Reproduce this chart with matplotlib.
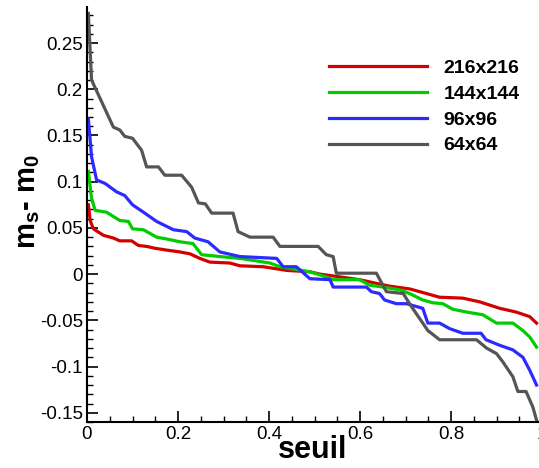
import matplotlib
matplotlib.use("Agg")
import matplotlib.pyplot as plt
from matplotlib.ticker import MultipleLocator, FuncFormatter

plt.rcParams['font.family'] = ['Liberation Sans', 'DejaVu Sans']
plt.rcParams['axes.unicode_minus'] = False
plt.rcParams['mathtext.fontset'] = 'custom'
plt.rcParams['mathtext.rm'] = 'Liberation Sans:bold'
plt.rcParams['mathtext.it'] = 'Liberation Sans:bold'
plt.rcParams['mathtext.bf'] = 'Liberation Sans:bold'

# curves: seuil -> m_s - m_0
x_216 = [0.003, 0.007, 0.014, 0.036, 0.058, 0.072, 0.098, 0.113, 0.131, 0.149, 0.175,
         0.204, 0.226, 0.248, 0.270, 0.314, 0.336, 0.387, 0.439, 0.490, 0.512, 0.556,
         0.599, 0.636, 0.665, 0.709, 0.746, 0.775, 0.826, 0.863, 0.907, 0.943, 0.973, 0.988]
y_216 = [0.075, 0.058, 0.049, 0.042, 0.039, 0.036, 0.036, 0.031, 0.030, 0.028, 0.026,
         0.024, 0.022, 0.017, 0.013, 0.012, 0.009, 0.008, 0.004, 0.0025, 0.0, -0.003,
         -0.006, -0.010, -0.013, -0.016, -0.021, -0.025, -0.026, -0.030, -0.037, -0.041, -0.046, -0.053]

x_144 = [0.003, 0.010, 0.018, 0.043, 0.072, 0.091, 0.100, 0.124, 0.153, 0.175, 0.204,
         0.233, 0.252, 0.292, 0.336, 0.402, 0.424, 0.490, 0.526, 0.541, 0.599, 0.621,
         0.651, 0.687, 0.709, 0.738, 0.760, 0.782, 0.804, 0.834, 0.870, 0.900, 0.936,
         0.958, 0.973, 0.988]
y_144 = [0.111, 0.082, 0.069, 0.067, 0.058, 0.057, 0.049, 0.048, 0.040, 0.038, 0.035,
         0.033, 0.021, 0.019, 0.017, 0.012, 0.008, 0.0025, -0.003, -0.006, -0.006, -0.012,
         -0.014, -0.017, -0.021, -0.028, -0.031, -0.032, -0.038, -0.041, -0.044, -0.053, -0.053,
         -0.061, -0.068, -0.079]

x_96 = [0.003, 0.010, 0.021, 0.040, 0.065, 0.083, 0.100, 0.124, 0.153, 0.190, 0.219,
        0.237, 0.266, 0.292, 0.336, 0.417, 0.431, 0.460, 0.490, 0.534, 0.541, 0.614,
        0.625, 0.643, 0.654, 0.680, 0.702, 0.738, 0.749, 0.775, 0.797, 0.826, 0.866,
        0.877, 0.907, 0.936, 0.958, 0.973, 0.988]
y_96 = [0.168, 0.127, 0.102, 0.098, 0.089, 0.085, 0.075, 0.067, 0.057, 0.048, 0.046,
        0.039, 0.035, 0.024, 0.019, 0.017, 0.008, 0.008, -0.005, -0.006, -0.014, -0.014,
        -0.019, -0.021, -0.028, -0.032, -0.032, -0.037, -0.053, -0.053, -0.059, -0.064, -0.064,
        -0.071, -0.077, -0.082, -0.090, -0.104, -0.120]

x_64 = [0.003, 0.010, 0.058, 0.072, 0.083, 0.100, 0.120, 0.131, 0.157, 0.171, 0.208,
        0.230, 0.245, 0.260, 0.274, 0.321, 0.332, 0.358, 0.409, 0.424, 0.508, 0.526,
        0.541, 0.548, 0.636, 0.658, 0.695, 0.709, 0.724, 0.738, 0.749, 0.775, 0.856,
        0.878, 0.900, 0.914, 0.936, 0.947, 0.965, 0.980, 0.988]
y_64 = [0.282, 0.210, 0.159, 0.156, 0.149, 0.147, 0.134, 0.116, 0.116, 0.107, 0.107,
        0.094, 0.077, 0.076, 0.066, 0.066, 0.046, 0.040, 0.040, 0.030, 0.030, 0.021,
        0.019, 0.001, 0.001, -0.019, -0.021, -0.032, -0.043, -0.053, -0.061, -0.071, -0.071,
        -0.080, -0.086, -0.095, -0.111, -0.127, -0.127, -0.144, -0.158]

labels = ['216x216', '144x144', '96x96', '64x64']
colors = ['#d40000', '#00cc00', '#2b2bff', '#555555']

fig = plt.figure(figsize=(5.39, 4.68), dpi=100)
ax = fig.add_axes([87/539, 1 - 422/468, (542 - 87)/539, (422 - 7)/468])

for xs, ys, lab, col in zip([x_216, x_144, x_96, x_64], [y_216, y_144, y_96, y_64], labels, colors):
    ax.plot(xs, ys, '-', color=col, lw=2.3, label=lab)

ax.set_xlim(0, 1)
ax.set_ylim(-0.16, 0.289)

ax.spines['top'].set_visible(False)
ax.spines['right'].set_visible(False)
ax.spines['left'].set_linewidth(1.5)
ax.spines['bottom'].set_linewidth(1.5)

ax.xaxis.set_major_locator(MultipleLocator(0.2))
ax.xaxis.set_minor_locator(MultipleLocator(0.05))
ax.yaxis.set_major_locator(MultipleLocator(0.05))
ax.yaxis.set_minor_locator(MultipleLocator(0.01))
fmt = FuncFormatter(lambda v, p: '%g' % round(v, 4) if abs(v) > 1e-9 else '0')
ax.xaxis.set_major_formatter(fmt)
ax.yaxis.set_major_formatter(fmt)
ax.tick_params(which='major', direction='in', length=8, width=1.2, labelsize=13.5, pad=3)
ax.tick_params(which='minor', direction='in', length=4, width=1.0)

ax.set_xlabel('seuil', fontsize=22, fontweight='bold')
ax.xaxis.set_label_coords((313 - 87)/455, -(450 - 422)/415)
ax.xaxis.label.set_va('center')
ax.set_ylabel('m$_\\mathregular{s}$- m$_\\mathregular{0}$', fontsize=21, fontweight='bold')
ax.yaxis.set_label_coords(-(87 - 28)/455, (422 - 202)/415)
ax.yaxis.label.set_va('center')

leg = ax.legend(loc='upper left', bbox_to_anchor=((311 - 87)/455, (422 - 42)/415),
                frameon=False, handlelength=5.05, handletextpad=0.87, labelspacing=0.42,
                prop={'weight': 'bold', 'size': 14})

fig.savefig('out.png', dpi=100)
